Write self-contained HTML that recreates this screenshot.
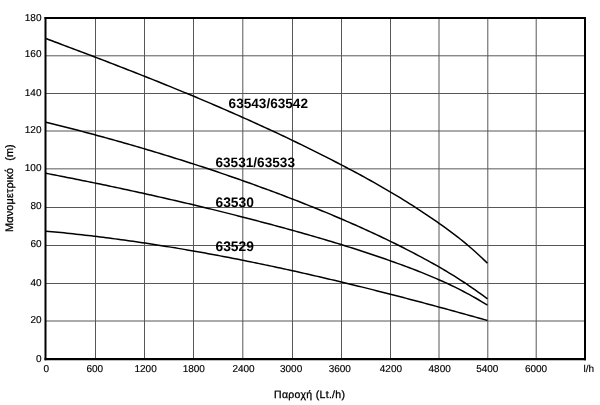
<!DOCTYPE html>
<html><head><meta charset="utf-8"><title>Chart</title>
<style>html,body{margin:0;padding:0;background:#fff;}svg{display:block;}text{text-rendering:geometricPrecision;}</style>
</head><body>
<svg width="600" height="405" viewBox="0 0 600 405">
<rect width="600" height="405" fill="#fff"/>
<g stroke="#575757" stroke-width="1" fill="none"><line x1="95.5" y1="18" x2="95.5" y2="359"/><line x1="144.5" y1="18" x2="144.5" y2="359"/><line x1="193.5" y1="18" x2="193.5" y2="359"/><line x1="242.8" y1="18" x2="242.8" y2="359"/><line x1="292.5" y1="18" x2="292.5" y2="359"/><line x1="341.5" y1="18" x2="341.5" y2="359"/><line x1="390.5" y1="18" x2="390.5" y2="359"/><line x1="439.0" y1="18" x2="439.0" y2="359"/><line x1="487.8" y1="18" x2="487.8" y2="359"/><line x1="536.2" y1="18" x2="536.2" y2="359"/><line x1="45.5" y1="321.0" x2="585" y2="321.0"/><line x1="45.5" y1="283.5" x2="585" y2="283.5"/><line x1="45.5" y1="245.5" x2="585" y2="245.5"/><line x1="45.5" y1="207.5" x2="585" y2="207.5"/><line x1="45.5" y1="168.85" x2="585" y2="168.85"/><line x1="45.5" y1="131.0" x2="585" y2="131.0"/><line x1="45.5" y1="93.5" x2="585" y2="93.5"/><line x1="45.5" y1="55.8" x2="585" y2="55.8"/></g>
<g font-family="'Liberation Sans', Arial, Helvetica, sans-serif" font-weight="bold" fill="#000"><text x="228.6" y="108" font-size="13.6">63543/63542</text><text x="215.4" y="167" font-size="13.6" textLength="79.6" lengthAdjust="spacing">63531/63533</text><text x="215.5" y="206.6" font-size="13.8">63530</text><text x="215.5" y="250.6" font-size="13.8">63529</text></g>
<g stroke="#000" stroke-width="1.5" fill="none" stroke-linejoin="round"><path d="M46.0,38.57 L49.0,39.69 L52.0,40.82 L55.0,41.94 L58.0,43.07 L61.0,44.20 L64.0,45.33 L67.0,46.46 L70.0,47.59 L73.0,48.72 L76.0,49.86 L79.0,50.99 L82.0,52.13 L85.0,53.27 L88.0,54.41 L91.1,55.56 L94.1,56.70 L97.1,57.85 L100.1,59.00 L103.1,60.15 L106.1,61.30 L109.1,62.46 L112.1,63.62 L115.1,64.78 L118.1,65.94 L121.1,67.10 L124.1,68.27 L127.1,69.44 L130.1,70.62 L133.1,71.79 L136.1,72.97 L139.1,74.16 L142.1,75.34 L145.1,76.53 L148.1,77.72 L151.1,78.92 L154.1,80.12 L157.1,81.32 L160.1,82.53 L163.1,83.74 L166.1,84.95 L169.1,86.17 L172.1,87.39 L175.1,88.62 L178.1,89.85 L181.2,91.08 L184.2,92.32 L187.2,93.56 L190.2,94.81 L193.2,96.06 L196.2,97.31 L199.2,98.57 L202.2,99.84 L205.2,101.11 L208.2,102.38 L211.2,103.66 L214.2,104.94 L217.2,106.23 L220.2,107.52 L223.2,108.82 L226.2,110.13 L229.2,111.44 L232.2,112.75 L235.2,114.07 L238.2,115.40 L241.2,116.73 L244.2,118.07 L247.2,119.41 L250.2,120.76 L253.2,122.12 L256.2,123.48 L259.2,124.85 L262.2,126.22 L265.2,127.60 L268.3,128.99 L271.3,130.38 L274.3,131.78 L277.3,133.18 L280.3,134.60 L283.3,136.01 L286.3,137.44 L289.3,138.87 L292.3,140.31 L295.3,141.76 L298.3,143.21 L301.3,144.67 L304.3,146.14 L307.3,147.62 L310.3,149.10 L313.3,150.59 L316.3,152.09 L319.3,153.59 L322.3,155.10 L325.3,156.63 L328.3,158.15 L331.3,159.69 L334.3,161.23 L337.3,162.79 L340.3,164.35 L343.3,165.92 L346.3,167.49 L349.3,169.08 L352.3,170.68 L355.4,172.28 L358.4,173.90 L361.4,175.53 L364.4,177.17 L367.4,178.82 L370.4,180.49 L373.4,182.17 L376.4,183.86 L379.4,185.57 L382.4,187.29 L385.4,189.03 L388.4,190.78 L391.4,192.55 L394.4,194.34 L397.4,196.15 L400.4,197.97 L403.4,199.81 L406.4,201.67 L409.4,203.55 L412.4,205.46 L415.4,207.38 L418.4,209.32 L421.4,211.29 L424.4,213.28 L427.4,215.29 L430.4,217.32 L433.4,219.38 L436.4,221.47 L439.4,223.58 L442.4,225.71 L445.5,227.88 L448.5,230.07 L451.5,232.31 L454.5,234.59 L457.5,236.91 L460.5,239.27 L463.5,241.69 L466.5,244.17 L469.5,246.70 L472.5,249.30 L475.5,251.96 L478.5,254.69 L481.5,257.50 L484.5,260.38 L487.5,263.34"/><path d="M46.0,122.18 L49.0,122.92 L52.0,123.67 L55.0,124.43 L58.0,125.18 L61.0,125.94 L64.0,126.71 L67.0,127.48 L70.0,128.25 L73.0,129.03 L76.0,129.81 L79.0,130.60 L82.0,131.39 L85.0,132.18 L88.0,132.98 L91.1,133.79 L94.1,134.59 L97.1,135.41 L100.1,136.22 L103.1,137.04 L106.1,137.87 L109.1,138.70 L112.1,139.53 L115.1,140.37 L118.1,141.22 L121.1,142.07 L124.1,142.92 L127.1,143.78 L130.1,144.64 L133.1,145.51 L136.1,146.38 L139.1,147.26 L142.1,148.14 L145.1,149.02 L148.1,149.92 L151.1,150.81 L154.1,151.71 L157.1,152.62 L160.1,153.53 L163.1,154.45 L166.1,155.37 L169.1,156.29 L172.1,157.23 L175.1,158.16 L178.1,159.10 L181.2,160.05 L184.2,161.00 L187.2,161.96 L190.2,162.92 L193.2,163.89 L196.2,164.86 L199.2,165.84 L202.2,166.83 L205.2,167.82 L208.2,168.81 L211.2,169.81 L214.2,170.82 L217.2,171.83 L220.2,172.85 L223.2,173.87 L226.2,174.90 L229.2,175.93 L232.2,176.97 L235.2,178.01 L238.2,179.07 L241.2,180.12 L244.2,181.18 L247.2,182.25 L250.2,183.33 L253.2,184.41 L256.2,185.49 L259.2,186.58 L262.2,187.68 L265.2,188.78 L268.3,189.89 L271.3,191.01 L274.3,192.13 L277.3,193.26 L280.3,194.39 L283.3,195.53 L286.3,196.68 L289.3,197.83 L292.3,198.99 L295.3,200.15 L298.3,201.32 L301.3,202.50 L304.3,203.69 L307.3,204.88 L310.3,206.08 L313.3,207.28 L316.3,208.50 L319.3,209.72 L322.3,210.95 L325.3,212.18 L328.3,213.43 L331.3,214.68 L334.3,215.94 L337.3,217.22 L340.3,218.50 L343.3,219.79 L346.3,221.08 L349.3,222.39 L352.3,223.71 L355.4,225.04 L358.4,226.38 L361.4,227.73 L364.4,229.08 L367.4,230.45 L370.4,231.84 L373.4,233.23 L376.4,234.63 L379.4,236.04 L382.4,237.47 L385.4,238.91 L388.4,240.36 L391.4,241.82 L394.4,243.29 L397.4,244.78 L400.4,246.28 L403.4,247.79 L406.4,249.32 L409.4,250.85 L412.4,252.41 L415.4,253.98 L418.4,255.56 L421.4,257.16 L424.4,258.79 L427.4,260.43 L430.4,262.09 L433.4,263.77 L436.4,265.47 L439.4,267.20 L442.4,268.96 L445.5,270.73 L448.5,272.54 L451.5,274.37 L454.5,276.23 L457.5,278.13 L460.5,280.05 L463.5,282.00 L466.5,283.99 L469.5,286.01 L472.5,288.06 L475.5,290.15 L478.5,292.28 L481.5,294.44 L484.5,296.65 L487.5,298.89"/><path d="M46.0,173.30 L49.0,173.88 L52.0,174.46 L55.0,175.05 L58.0,175.63 L61.0,176.22 L64.0,176.81 L67.0,177.40 L70.0,178.00 L73.0,178.60 L76.0,179.20 L79.0,179.80 L82.0,180.41 L85.0,181.02 L88.0,181.63 L91.1,182.24 L94.1,182.86 L97.1,183.48 L100.1,184.10 L103.1,184.72 L106.1,185.35 L109.1,185.98 L112.1,186.61 L115.1,187.25 L118.1,187.88 L121.1,188.52 L124.1,189.17 L127.1,189.81 L130.1,190.46 L133.1,191.11 L136.1,191.77 L139.1,192.43 L142.1,193.09 L145.1,193.75 L148.1,194.42 L151.1,195.09 L154.1,195.76 L157.1,196.44 L160.1,197.11 L163.1,197.80 L166.1,198.48 L169.1,199.17 L172.1,199.86 L175.1,200.55 L178.1,201.25 L181.2,201.95 L184.2,202.66 L187.2,203.36 L190.2,204.07 L193.2,204.79 L196.2,205.50 L199.2,206.23 L202.2,206.95 L205.2,207.68 L208.2,208.41 L211.2,209.14 L214.2,209.88 L217.2,210.62 L220.2,211.36 L223.2,212.11 L226.2,212.86 L229.2,213.62 L232.2,214.37 L235.2,215.14 L238.2,215.90 L241.2,216.67 L244.2,217.44 L247.2,218.22 L250.2,219.00 L253.2,219.78 L256.2,220.57 L259.2,221.36 L262.2,222.16 L265.2,222.95 L268.3,223.76 L271.3,224.56 L274.3,225.37 L277.3,226.19 L280.3,227.00 L283.3,227.83 L286.3,228.65 L289.3,229.48 L292.3,230.31 L295.3,231.15 L298.3,231.99 L301.3,232.84 L304.3,233.69 L307.3,234.54 L310.3,235.40 L313.3,236.27 L316.3,237.14 L319.3,238.02 L322.3,238.90 L325.3,239.78 L328.3,240.68 L331.3,241.58 L334.3,242.48 L337.3,243.40 L340.3,244.31 L343.3,245.24 L346.3,246.17 L349.3,247.12 L352.3,248.06 L355.4,249.02 L358.4,249.98 L361.4,250.96 L364.4,251.94 L367.4,252.93 L370.4,253.92 L373.4,254.93 L376.4,255.95 L379.4,256.97 L382.4,258.01 L385.4,259.05 L388.4,260.10 L391.4,261.17 L394.4,262.24 L397.4,263.33 L400.4,264.42 L403.4,265.53 L406.4,266.64 L409.4,267.77 L412.4,268.91 L415.4,270.07 L418.4,271.24 L421.4,272.42 L424.4,273.63 L427.4,274.85 L430.4,276.09 L433.4,277.36 L436.4,278.64 L439.4,279.96 L442.4,281.29 L445.5,282.65 L448.5,284.05 L451.5,285.46 L454.5,286.91 L457.5,288.40 L460.5,289.91 L463.5,291.46 L466.5,293.04 L469.5,294.66 L472.5,296.32 L475.5,298.02 L478.5,299.76 L481.5,301.54 L484.5,303.36 L487.5,305.23"/><path d="M46.0,231.15 L49.0,231.42 L52.0,231.70 L55.0,231.98 L58.0,232.27 L61.0,232.57 L64.0,232.87 L67.0,233.18 L70.0,233.49 L73.0,233.81 L76.0,234.14 L79.0,234.47 L82.0,234.81 L85.0,235.15 L88.0,235.50 L91.1,235.85 L94.1,236.21 L97.1,236.57 L100.1,236.94 L103.1,237.31 L106.1,237.69 L109.1,238.08 L112.1,238.47 L115.1,238.87 L118.1,239.27 L121.1,239.67 L124.1,240.09 L127.1,240.50 L130.1,240.93 L133.1,241.35 L136.1,241.79 L139.1,242.22 L142.1,242.67 L145.1,243.11 L148.1,243.57 L151.1,244.03 L154.1,244.49 L157.1,244.96 L160.1,245.43 L163.1,245.91 L166.1,246.39 L169.1,246.88 L172.1,247.37 L175.1,247.86 L178.1,248.37 L181.2,248.87 L184.2,249.38 L187.2,249.90 L190.2,250.42 L193.2,250.94 L196.2,251.47 L199.2,252.01 L202.2,252.55 L205.2,253.09 L208.2,253.64 L211.2,254.19 L214.2,254.75 L217.2,255.31 L220.2,255.87 L223.2,256.44 L226.2,257.02 L229.2,257.59 L232.2,258.18 L235.2,258.76 L238.2,259.35 L241.2,259.95 L244.2,260.55 L247.2,261.15 L250.2,261.76 L253.2,262.37 L256.2,262.99 L259.2,263.61 L262.2,264.23 L265.2,264.86 L268.3,265.49 L271.3,266.13 L274.3,266.77 L277.3,267.41 L280.3,268.06 L283.3,268.71 L286.3,269.36 L289.3,270.02 L292.3,270.68 L295.3,271.35 L298.3,272.02 L301.3,272.69 L304.3,273.37 L307.3,274.05 L310.3,274.74 L313.3,275.42 L316.3,276.12 L319.3,276.81 L322.3,277.51 L325.3,278.21 L328.3,278.92 L331.3,279.63 L334.3,280.34 L337.3,281.05 L340.3,281.77 L343.3,282.49 L346.3,283.22 L349.3,283.95 L352.3,284.68 L355.4,285.41 L358.4,286.15 L361.4,286.89 L364.4,287.64 L367.4,288.39 L370.4,289.14 L373.4,289.89 L376.4,290.65 L379.4,291.41 L382.4,292.17 L385.4,292.93 L388.4,293.70 L391.4,294.47 L394.4,295.25 L397.4,296.02 L400.4,296.80 L403.4,297.58 L406.4,298.37 L409.4,299.16 L412.4,299.95 L415.4,300.74 L418.4,301.54 L421.4,302.33 L424.4,303.14 L427.4,303.94 L430.4,304.74 L433.4,305.55 L436.4,306.36 L439.4,307.18 L442.4,307.99 L445.5,308.81 L448.5,309.63 L451.5,310.45 L454.5,311.28 L457.5,312.11 L460.5,312.94 L463.5,313.77 L466.5,314.60 L469.5,315.44 L472.5,316.28 L475.5,317.12 L478.5,317.96 L481.5,318.80 L484.5,319.65 L487.5,320.50"/></g>
<g stroke="#000" fill="none"><line x1="45.5" y1="17" x2="45.5" y2="360.3" stroke-width="2"/><line x1="44.5" y1="18" x2="586" y2="18" stroke-width="2"/><line x1="585" y1="17" x2="585" y2="360.3" stroke-width="2"/><line x1="44.5" y1="359.15" x2="586" y2="359.15" stroke-width="2.3"/></g>
<g font-family="'Liberation Sans', Arial, Helvetica, sans-serif" font-size="10" fill="#000" stroke="#000" stroke-width="0.15"><text x="41.5" y="362.05" text-anchor="end">0</text><text x="41.5" y="323.05" text-anchor="end">20</text><text x="41.5" y="285.85" text-anchor="end">40</text><text x="41.5" y="246.85" text-anchor="end">60</text><text x="41.5" y="209.35" text-anchor="end">80</text><text x="41.5" y="170.65" text-anchor="end">100</text><text x="41.5" y="133.05" text-anchor="end">120</text><text x="41.5" y="95.85" text-anchor="end">140</text><text x="41.5" y="57.25" text-anchor="end">160</text><text x="41.5" y="20.95" text-anchor="end">180</text><text x="46.2" y="371.6" text-anchor="middle">0</text><text x="94.75" y="371.6" text-anchor="middle">600</text><text x="145.6" y="371.6" text-anchor="middle">1200</text><text x="193.8" y="371.6" text-anchor="middle">1800</text><text x="243.5" y="371.6" text-anchor="middle">2400</text><text x="291.1" y="371.6" text-anchor="middle">3000</text><text x="339.75" y="371.6" text-anchor="middle">3600</text><text x="390.95" y="371.6" text-anchor="middle">4200</text><text x="439.65" y="371.6" text-anchor="middle">4800</text><text x="487.25" y="371.6" text-anchor="middle">5400</text><text x="536.0" y="371.6" text-anchor="middle">6000</text><text x="583.6" y="371.6">l/h</text></g>
<g font-family="'Liberation Sans', Arial, Helvetica, sans-serif" fill="#000" stroke="#000" stroke-width="0.3"><text x="274" y="397.6" font-size="10.5" textLength="71" lengthAdjust="spacing">Παροχή (Lt./h)</text><g transform="translate(13,232) rotate(-90)" font-size="10.9"><text x="0" y="0" textLength="64" lengthAdjust="spacing">Μανομετρικό</text><text x="71.3" y="0">(m)</text></g></g>
</svg>
</body></html>
